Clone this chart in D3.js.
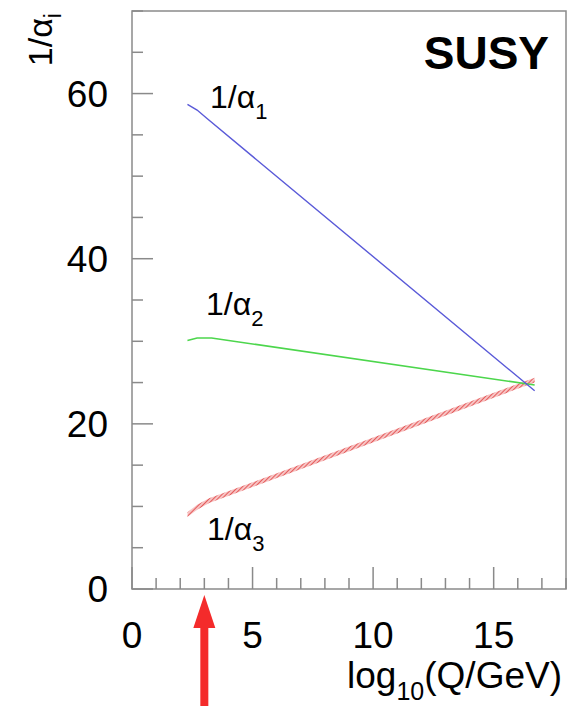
<!DOCTYPE html>
<html>
<head>
<meta charset="utf-8">
<script src="https://cdn.jsdelivr.net/npm/d3@7"></script>
<style>
  body { margin: 0; background: #fff; }
  svg text { font-family: "Liberation Sans", Arial, Helvetica, sans-serif; fill: #000; }
</style>
</head>
<body>
<svg id="chart" width="576" height="706"></svg>
<script>
// data: x = log10(Q/GeV), y = 1/alpha_i
const alpha1X = [2.3, 2.7, 3.1, 16.7];
const alpha1Y = [58.7, 58.0, 57.0, 24.0];
const alpha2X = [2.3, 2.7, 3.3, 16.7];
const alpha2Y = [30.1, 30.4, 30.4, 24.7];
const alpha3X = [2.3, 2.7, 3.2, 16.7];
const alpha3Y = [9.0, 9.9, 10.7, 25.3];

const xMajorTicks = [0, 5, 10, 15];
const yMajorTicks = [0, 20, 40, 60];
const arrowAt = 3;

const svg = d3.select("#chart");
const width = +svg.attr("width");
const height = +svg.attr("height");
const margin = { top: 11, right: 10, bottom: 117, left: 132 };
const innerWidth = width - margin.left - margin.right;
const innerHeight = height - margin.top - margin.bottom;

const x = d3.scaleLinear().domain([0, 18]).range([0, innerWidth]);
const y = d3.scaleLinear().domain([0, 70]).range([innerHeight, 0]);

const frameColor = "#8a8a8a";

const defs = svg.append("defs");
const hatch = defs.append("pattern")
  .attr("id", "hatch")
  .attr("patternUnits", "userSpaceOnUse")
  .attr("width", 3)
  .attr("height", 3)
  .attr("patternTransform", "rotate(45)");
hatch.append("rect").attr("width", 3).attr("height", 3).attr("fill", "#f7c4c4");
hatch.append("line")
  .attr("x1", 0).attr("y1", 0).attr("x2", 0).attr("y2", 3)
  .attr("stroke", "#e04040").attr("stroke-width", 1.6);

const g = svg.append("g")
  .attr("transform", `translate(${margin.left},${margin.top})`);

// frame
g.append("rect")
  .attr("width", innerWidth)
  .attr("height", innerHeight)
  .attr("fill", "none")
  .attr("stroke", frameColor)
  .attr("stroke-width", 1.5);

// y ticks (pointing inward)
const yAxis = g.append("g").attr("class", "y-axis");
yAxis.selectAll("line")
  .data(d3.range(0, 71, 5))
  .enter().append("line")
  .attr("x1", 0)
  .attr("x2", d => yMajorTicks.includes(d) ? 21 : 11)
  .attr("y1", d => y(d))
  .attr("y2", d => y(d))
  .attr("stroke", frameColor)
  .attr("stroke-width", 1.5);
yAxis.selectAll("text")
  .data(yMajorTicks)
  .enter().append("text")
  .attr("x", -24)
  .attr("y", d => y(d) + 13)
  .attr("text-anchor", "end")
  .style("font-size", "37px")
  .text(d => d);

// x ticks
const xAxis = g.append("g").attr("class", "x-axis")
  .attr("transform", `translate(0,${innerHeight})`);
xAxis.selectAll("line")
  .data(d3.range(0, 19, 1))
  .enter().append("line")
  .attr("x1", d => x(d))
  .attr("x2", d => x(d))
  .attr("y1", 0)
  .attr("y2", d => xMajorTicks.includes(d) ? -22 : -11)
  .attr("stroke", frameColor)
  .attr("stroke-width", 1.5);
xAxis.selectAll("text")
  .data(xMajorTicks)
  .enter().append("text")
  .attr("x", d => x(d))
  .attr("y", 59)
  .attr("text-anchor", "middle")
  .style("font-size", "37px")
  .text(d => d);

// x title
const xTitle = svg.append("text")
  .attr("x", 562)
  .attr("y", 688)
  .attr("text-anchor", "end")
  .style("font-size", "37px");
xTitle.append("tspan").text("log");
xTitle.append("tspan").attr("dy", 12).style("font-size", "25px").text("10");
xTitle.append("tspan").attr("dy", -12).text("(Q/GeV)");

// y title
const yTitle = svg.append("text")
  .attr("transform", "translate(52,13) rotate(-90)")
  .attr("text-anchor", "end")
  .style("font-size", "34px");
yTitle.append("tspan").text("1/α");
yTitle.append("tspan").attr("dy", 9).style("font-size", "23px").text("i");

// SUSY label
svg.append("text")
  .attr("x", 549)
  .attr("y", 69)
  .attr("text-anchor", "end")
  .style("font-size", "46px")
  .style("font-weight", "bold")
  .text("SUSY");

// curves
const line = d3.line().x(d => x(d[0])).y(d => y(d[1]));
const alpha1 = d3.zip(alpha1X, alpha1Y);
const alpha2 = d3.zip(alpha2X, alpha2Y);
const alpha3 = d3.zip(alpha3X, alpha3Y);

const halfBand = 2.4; // px
g.append("path")
  .datum(alpha3)
  .attr("fill", "url(#hatch)")
  .attr("d", d3.area()
    .x(d => x(d[0]))
    .y0(d => y(d[1]) + halfBand)
    .y1(d => y(d[1]) - halfBand));

g.append("path")
  .datum(alpha2)
  .attr("fill", "none")
  .attr("stroke", "#4cd64c")
  .attr("stroke-width", 1.6)
  .attr("d", line);

g.append("path")
  .datum(alpha1)
  .attr("fill", "none")
  .attr("stroke", "#5a5ad8")
  .attr("stroke-width", 1.4)
  .attr("d", line);

// curve labels
const curveLabels = [
  { sub: "1", x: 210, y: 108 },
  { sub: "2", x: 206, y: 315 },
  { sub: "3", x: 207, y: 540 }
];
curveLabels.forEach(l => {
  const t = svg.append("text")
    .attr("x", l.x)
    .attr("y", l.y)
    .style("font-size", "32px");
  t.append("tspan").text("1/α");
  t.append("tspan").attr("dy", 11).style("font-size", "22px").text(l.sub);
});

// red arrow
const ax = margin.left + x(arrowAt);
svg.append("path")
  .attr("d", `M${ax},595 L${ax + 11},628 L${ax + 4},628 L${ax + 4},706 L${ax - 4},706 L${ax - 4},628 L${ax - 11},628 Z`)
  .attr("fill", "#f42b2b");
</script>
</body>
</html>
